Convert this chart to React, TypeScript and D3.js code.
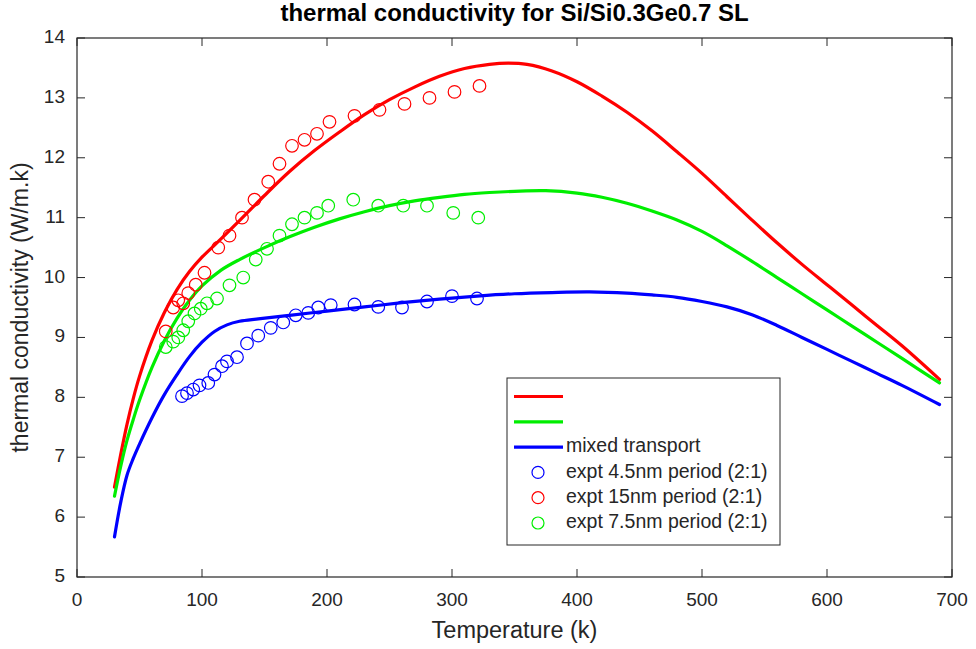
import React from "react";
import * as d3 from "d3";

// ---- data ----
const redModelT = [30, 35, 40, 45, 50, 60, 70, 80, 90, 100, 115, 130, 150, 170, 190, 210, 230, 250, 270, 290, 310, 330, 345, 360, 380, 400, 420, 440, 460, 480, 500, 520, 540, 560, 580, 600, 620, 640, 660, 690];
const redModelK = [6.5, 7.05, 7.55, 7.98, 8.35, 8.95, 9.42, 9.8, 10.1, 10.34, 10.64, 10.95, 11.37, 11.77, 12.12, 12.43, 12.72, 12.97, 13.18, 13.36, 13.49, 13.56, 13.58, 13.56, 13.45, 13.27, 13.03, 12.76, 12.45, 12.1, 11.74, 11.35, 10.96, 10.58, 10.22, 9.88, 9.54, 9.2, 8.86, 8.3];

const greenModelT = [30, 35, 40, 45, 50, 60, 70, 80, 90, 100, 115, 130, 150, 170, 190, 210, 230, 250, 270, 290, 310, 330, 350, 375, 400, 420, 440, 460, 480, 500, 520, 540, 560, 580, 600, 620, 640, 660, 690];
const greenModelK = [6.35, 6.85, 7.28, 7.63, 7.95, 8.5, 8.95, 9.32, 9.62, 9.86, 10.12, 10.3, 10.5, 10.68, 10.84, 10.98, 11.1, 11.2, 11.28, 11.34, 11.39, 11.42, 11.44, 11.45, 11.41, 11.34, 11.24, 11.11, 10.96, 10.77, 10.53, 10.27, 10.0, 9.73, 9.46, 9.19, 8.92, 8.65, 8.24];

const blueModelT = [30, 35, 40, 45, 50, 60, 70, 80, 90, 100, 110, 120, 130, 145, 170, 200, 230, 260, 290, 320, 350, 380, 410, 440, 460, 480, 500, 520, 540, 560, 580, 600, 620, 640, 660, 690];
const blueModelK = [5.67, 6.25, 6.7, 6.98, 7.22, 7.66, 8.05, 8.38, 8.68, 8.92, 9.1, 9.21, 9.27, 9.31, 9.37, 9.44, 9.51, 9.58, 9.64, 9.69, 9.73, 9.75, 9.76, 9.74, 9.71, 9.67, 9.6, 9.51, 9.38, 9.2, 9.0, 8.8, 8.6, 8.4, 8.2, 7.88];

const blueExptT = [84, 88, 93, 98, 105, 110, 116, 120, 128, 136, 145, 155, 165, 175, 185, 193, 203, 222, 241, 260, 280, 300, 320];
const blueExptK = [8.02, 8.07, 8.13, 8.2, 8.24, 8.38, 8.52, 8.6, 8.67, 8.9, 9.03, 9.16, 9.25, 9.37, 9.41, 9.5, 9.54, 9.55, 9.51, 9.5, 9.6, 9.69, 9.65];

const redExptT = [71, 77, 81, 85, 89, 95, 102, 113, 122, 132, 142, 153, 162, 172, 182, 192, 202, 222, 242, 262, 282, 302, 322];
const redExptK = [9.1, 9.5, 9.62, 9.57, 9.74, 9.88, 10.08, 10.5, 10.7, 11.0, 11.3, 11.6, 11.9, 12.2, 12.3, 12.4, 12.6, 12.7, 12.8, 12.9, 13.0, 13.1, 13.2];

const greenExptT = [71, 77, 81, 85, 89, 94, 99, 104, 112, 122, 133, 143, 152, 162, 172, 182, 192, 201, 221, 241, 261, 280, 301, 321];
const greenExptK = [8.84, 8.93, 9.0, 9.12, 9.27, 9.4, 9.48, 9.57, 9.65, 9.87, 10.0, 10.3, 10.48, 10.7, 10.89, 11.0, 11.08, 11.2, 11.3, 11.2, 11.2, 11.2, 11.08, 11.0];

const xTicks = [0, 100, 200, 300, 400, 500, 600, 700];
const yTicks = [5, 6, 7, 8, 9, 10, 11, 12, 13, 14];

const legendLabels = ["", "", "mixed transport", "expt 4.5nm period (2:1)", "expt 15nm period (2:1)", "expt 7.5nm period (2:1)"];

const RED = "#ff0000";
const GREEN = "#00ee00";
const BLUE = "#0000ff";
const TXT = "#262626";
const FONT = "'Liberation Sans', Arial, sans-serif";

export default function App() {
  const W = 976, H = 649;
  const L = 77, R = 952, T = 38, B = 577;
  const x = d3.scaleLinear().domain([0, 700]).range([L, R]);
  const y = d3.scaleLinear().domain([5, 14]).range([B, T]);
  const line = d3.line<[number, number]>().x(d => x(d[0])).y(d => y(d[1])).curve(d3.curveCatmullRom.alpha(0.5));
  const zip = (a: number[], b: number[]) => a.map((v, i) => [v, b[i]] as [number, number]);

  const models = [
    { t: redModelT, k: redModelK, c: RED },
    { t: greenModelT, k: greenModelK, c: GREEN },
    { t: blueModelT, k: blueModelK, c: BLUE },
  ];
  const expts = [
    { t: blueExptT, k: blueExptK, c: BLUE },
    { t: redExptT, k: redExptK, c: RED },
    { t: greenExptT, k: greenExptK, c: GREEN },
  ];
  const tl = 8;
  const lgX = 507, lgY = 378, lgW = 273, lgH = 167;
  const rowY = (i: number) => lgY + 18.5 + i * 25.3;
  const legendColors = [RED, GREEN, BLUE, BLUE, RED, GREEN];

  return (
    <svg width={W} height={H} style={{ position: "absolute", left: 0, top: 0, background: "#fff" }} fontFamily={FONT}>
      <rect x={0} y={0} width={W} height={H} fill="#fff" />
      {xTicks.map(v => (
        <g key={"xt" + v}>
          <line x1={x(v)} x2={x(v)} y1={B} y2={B - tl} stroke={TXT} />
          <line x1={x(v)} x2={x(v)} y1={T} y2={T + tl} stroke={TXT} />
          <text x={x(v)} y={B + 24} textAnchor="middle" dominantBaseline="middle" fontSize={19} fill={TXT}>{v}</text>
        </g>
      ))}
      {yTicks.map(v => (
        <g key={"yt" + v}>
          <line x1={L} x2={L + tl} y1={y(v)} y2={y(v)} stroke={TXT} />
          <line x1={R} x2={R - tl} y1={y(v)} y2={y(v)} stroke={TXT} />
          <text x={L - 12} y={y(v)} textAnchor="end" dominantBaseline="middle" fontSize={19} fill={TXT}>{v}</text>
        </g>
      ))}
      <g>
        {models.map((m, i) => (
          <path key={"m" + i} d={line(zip(m.t, m.k)) || ""} fill="none" stroke={m.c} strokeWidth={3.2} strokeLinejoin="round" strokeLinecap="round" />
        ))}
        {expts.map((e, i) => (
          <g key={"e" + i}>
            {zip(e.t, e.k).map((p, j) => (
              <circle key={j} cx={x(p[0])} cy={y(p[1])} r={6.3} fill="none" stroke={e.c} strokeWidth={1.2} />
            ))}
          </g>
        ))}
      </g>
      <rect x={L} y={T} width={R - L} height={B - T} fill="none" stroke={TXT} strokeWidth={1.2} />
      <g>
        <rect x={lgX} y={lgY} width={lgW} height={lgH} fill="#fff" stroke={TXT} strokeWidth={1} />
        {legendLabels.map((lab, i) => (
          <g key={"lg" + i}>
            {i < 3 ? (
              <line x1={lgX + 7} x2={lgX + 56} y1={rowY(i)} y2={rowY(i)} stroke={legendColors[i]} strokeWidth={3.2} />
            ) : (
              <circle cx={lgX + 31} cy={rowY(i)} r={6} fill="none" stroke={legendColors[i]} strokeWidth={1.2} />
            )}
            <text x={lgX + 59} y={rowY(i)} dominantBaseline="middle" fontSize={19.5} fill={TXT}>{lab}</text>
          </g>
        ))}
      </g>
      <text x={(L + R) / 2} y={15} textAnchor="middle" dominantBaseline="middle" fontSize={24} fontWeight="bold" fill="#000">thermal conductivity for Si/Si0.3Ge0.7 SL</text>
      <text x={(L + R) / 2} y={632} textAnchor="middle" dominantBaseline="middle" fontSize={23.5} fill={TXT}>Temperature (k)</text>
      <text transform={`translate(22,${(T + B) / 2}) rotate(-90)`} textAnchor="middle" dominantBaseline="middle" fontSize={23} fill={TXT}>thermal conductivity (W/m.k)</text>
    </svg>
  );
}
